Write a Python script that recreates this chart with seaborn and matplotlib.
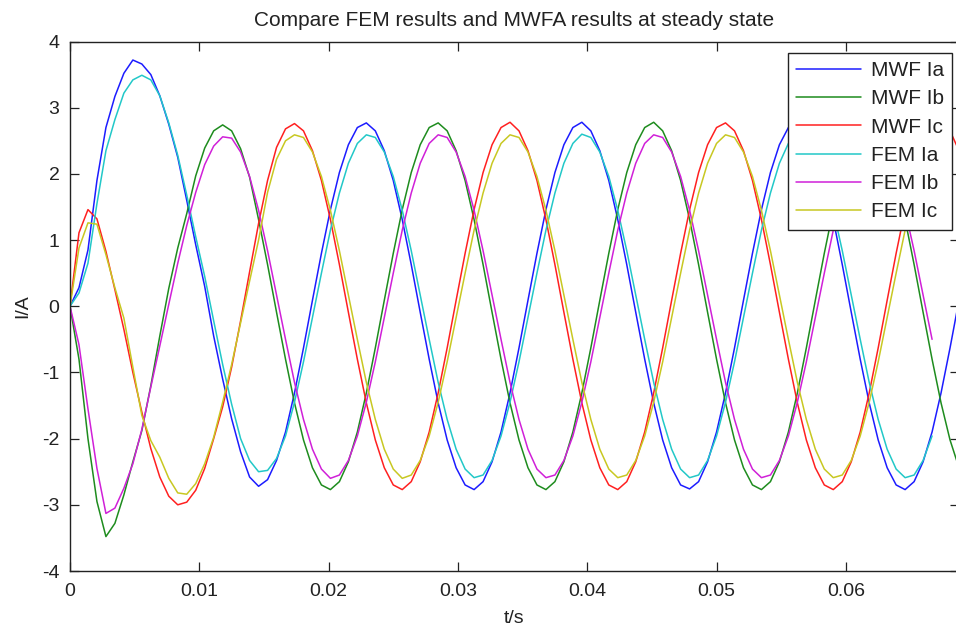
import matplotlib
matplotlib.use("Agg")
import matplotlib.pyplot as plt
from matplotlib.lines import Line2D
import pandas as pd
import seaborn as sns

# ---- data ----
t = [0.0, 0.000694, 0.001389, 0.002083, 0.002778, 0.003472, 0.004167, 0.004861,
     0.005556, 0.00625, 0.006944, 0.007639, 0.008333, 0.009028, 0.009722, 0.010417,
     0.011111, 0.011806, 0.0125, 0.013194, 0.013889, 0.014583, 0.015278, 0.015972,
     0.016667, 0.017361, 0.018056, 0.01875, 0.019444, 0.020139, 0.020833, 0.021528,
     0.022222, 0.022917, 0.023611, 0.024306, 0.025, 0.025694, 0.026389, 0.027083,
     0.027778, 0.028472, 0.029167, 0.029861, 0.030556, 0.03125, 0.031944, 0.032639,
     0.033333, 0.034028, 0.034722, 0.035417, 0.036111, 0.036806, 0.0375, 0.038194,
     0.038889, 0.039583, 0.040278, 0.040972, 0.041667, 0.042361, 0.043056, 0.04375,
     0.044444, 0.045139, 0.045833, 0.046528, 0.047222, 0.047917, 0.048611, 0.049306,
     0.05, 0.050694, 0.051389, 0.052083, 0.052778, 0.053472, 0.054167, 0.054861,
     0.055556, 0.05625, 0.056944, 0.057639, 0.058333, 0.059028, 0.059722, 0.060417,
     0.061111, 0.061806, 0.0625, 0.063194, 0.063889, 0.064583, 0.065278, 0.065972,
     0.066667, 0.067361, 0.068056, 0.06875]

mwf_ia = [0.00, 0.28, 0.85, 1.90, 2.70, 3.17, 3.52, 3.72, 3.66, 3.50, 3.18, 2.75,
          2.25, 1.60, 0.93, 0.30, -0.45, -1.10, -1.70, -2.20, -2.58, -2.72, -2.62, -2.33,
          -1.90, -1.31, -0.63, 0.09, 0.80, 1.46, 2.02, 2.44, 2.70, 2.77, 2.65, 2.35,
          1.90, 1.31, 0.63, -0.09, -0.80, -1.46, -2.02, -2.44, -2.70, -2.77, -2.65, -2.35,
          -1.90, -1.31, -0.63, 0.09, 0.80, 1.46, 2.02, 2.44, 2.70, 2.78, 2.65, 2.35,
          1.90, 1.31, 0.63, -0.09, -0.80, -1.46, -2.02, -2.44, -2.70, -2.76, -2.65, -2.35,
          -1.90, -1.31, -0.63, 0.09, 0.80, 1.46, 2.02, 2.44, 2.70, 2.77, 2.65, 2.35,
          1.90, 1.31, 0.63, -0.09, -0.80, -1.46, -2.02, -2.44, -2.70, -2.77, -2.65, -2.35,
          -1.90, -1.31, -0.63, 0.09]

mwf_ib = [0.00, -0.80, -2.00, -2.95, -3.48, -3.28, -2.85, -2.35, -1.88, -1.20, -0.45, 0.27,
          0.88, 1.40, 1.97, 2.39, 2.65, 2.74, 2.65, 2.38, 1.95,
          1.31, 0.63, -0.09, -0.80, -1.46, -2.02, -2.44, -2.70, -2.77, -2.65, -2.35,
          -1.90, -1.31, -0.63, 0.09, 0.80, 1.46, 2.02, 2.44, 2.70, 2.77, 2.65, 2.35,
          1.90, 1.31, 0.63, -0.09, -0.80, -1.46, -2.02, -2.44, -2.70, -2.77, -2.65, -2.35,
          -1.90, -1.31, -0.63, 0.09, 0.80, 1.46, 2.02, 2.44, 2.70, 2.78, 2.65, 2.35,
          1.90, 1.31, 0.63, -0.09, -0.80, -1.46, -2.02, -2.44, -2.70, -2.77, -2.65, -2.35,
          -1.90, -1.31, -0.63, 0.09, 0.80, 1.46, 2.02, 2.44, 2.70, 2.77, 2.65, 2.35,
          1.90, 1.31, 0.63, -0.09, -0.80, -1.46, -2.02, -2.44]

mwf_ic = [0.00, 1.11, 1.46, 1.32, 0.83, 0.25, -0.35, -1.00, -1.60, -2.15, -2.58, -2.87,
          -3.00, -2.96, -2.78, -2.45, -2.00, -1.52, -0.92, -0.22, 0.52, 1.25, 1.90, 2.40,
          2.68, 2.76,
          2.65, 2.35, 1.90, 1.31, 0.63, -0.09, -0.80, -1.46, -2.02, -2.44, -2.70, -2.77,
          -2.65, -2.35,
          -1.90, -1.31, -0.63, 0.09, 0.80, 1.46, 2.02, 2.44, 2.70, 2.78, 2.65, 2.35,
          1.90, 1.31, 0.63, -0.09, -0.80, -1.46, -2.02, -2.44, -2.70, -2.77, -2.65, -2.35,
          -1.90, -1.31, -0.63, 0.09, 0.80, 1.46, 2.02, 2.44, 2.70, 2.77, 2.65, 2.35,
          1.90, 1.31, 0.63, -0.09, -0.80, -1.46, -2.02, -2.44, -2.70, -2.77, -2.65, -2.35,
          -1.90, -1.31, -0.63, 0.09, 0.80, 1.46, 2.02, 2.44, 2.70, 2.77, 2.65, 2.35]

fem_ia = [0.00, 0.20, 0.65, 1.55, 2.35, 2.82, 3.22, 3.42, 3.49, 3.42, 3.18, 2.77,
          2.28, 1.68, 1.05, 0.45, -0.22, -0.88, -1.48, -2.00, -2.33, -2.50, -2.48, -2.30,
          -1.96, -1.45, -0.84, -0.17, 0.50, 1.15, 1.71, 2.16, 2.46, 2.59, 2.55, 2.33,
          1.96, 1.45, 0.84, 0.17, -0.50, -1.15, -1.71, -2.16, -2.46, -2.59, -2.55, -2.33,
          -1.96, -1.45, -0.84, -0.17, 0.50, 1.15, 1.71, 2.16, 2.46, 2.60, 2.55, 2.33,
          1.96, 1.45, 0.84, 0.17, -0.50, -1.15, -1.71, -2.16, -2.46, -2.59, -2.55, -2.33,
          -1.96, -1.45, -0.84, -0.17, 0.50, 1.15, 1.71, 2.16, 2.46, 2.59, 2.55, 2.33,
          1.96, 1.45, 0.84, 0.17, -0.50, -1.15, -1.71, -2.16, -2.46, -2.59, -2.55, -2.33,
          -1.96]

fem_ib = [0.00, -0.58, -1.55, -2.45, -3.13, -3.05, -2.75, -2.38, -1.86, -1.22, -0.60, 0.03,
          0.65, 1.22, 1.72, 2.14, 2.42, 2.56, 2.54, 2.33,
          1.96, 1.45, 0.84, 0.17, -0.50, -1.15, -1.71, -2.16, -2.46, -2.60, -2.55, -2.33,
          -1.96, -1.45, -0.84, -0.17, 0.50, 1.15, 1.71, 2.16, 2.46, 2.59, 2.55, 2.33,
          1.96, 1.45, 0.84, 0.17, -0.50, -1.15, -1.71, -2.16, -2.46, -2.59, -2.55, -2.33,
          -1.96, -1.45, -0.84, -0.17, 0.50, 1.15, 1.71, 2.16, 2.46, 2.59, 2.55, 2.33,
          1.96, 1.45, 0.84, 0.17, -0.50, -1.15, -1.71, -2.16, -2.46, -2.59, -2.55, -2.33,
          -1.96, -1.45, -0.84, -0.17, 0.50, 1.15, 1.71, 2.16, 2.46, 2.59, 2.55, 2.33,
          1.96, 1.45, 0.84, 0.17, -0.50]

fem_ic = [0.00, 0.88, 1.26, 1.24, 0.78, 0.28, -0.18, -0.92, -1.65, -2.03, -2.28, -2.60,
          -2.82, -2.84, -2.68, -2.38, -1.98, -1.45, -0.88, -0.25, 0.38, 1.00, 1.72, 2.22,
          2.50, 2.59,
          2.55, 2.33, 1.96, 1.45, 0.84, 0.17, -0.50, -1.15, -1.71, -2.16, -2.46, -2.60,
          -2.55, -2.33,
          -1.96, -1.45, -0.84, -0.17, 0.50, 1.15, 1.71, 2.16, 2.46, 2.59, 2.55, 2.33,
          1.96, 1.45, 0.84, 0.17, -0.50, -1.15, -1.71, -2.16, -2.46, -2.59, -2.55, -2.33,
          -1.96, -1.45, -0.84, -0.17, 0.50, 1.15, 1.71, 2.16, 2.46, 2.59, 2.55, 2.33,
          1.96, 1.45, 0.84, 0.17, -0.50, -1.15, -1.71, -2.16, -2.46, -2.59, -2.55, -2.33,
          -1.96, -1.45, -0.84, -0.17, 0.50, 1.15, 1.71, 2.16, 2.46]

series_names = ["MWF Ia", "MWF Ib", "MWF Ic", "FEM Ia", "FEM Ib", "FEM Ic"]
series_values = [mwf_ia, mwf_ib, mwf_ic, fem_ia, fem_ib, fem_ic]
series_colors = ["#1c1cff", "#1e8c1e", "#ff2020", "#22c8c8", "#d020d8", "#c8c822"]

x_ticks = [0, 0.01, 0.02, 0.03, 0.04, 0.05, 0.06]
x_tick_labels = ["0", "0.01", "0.02", "0.03", "0.04", "0.05", "0.06"]
y_ticks = [-4, -3, -2, -1, 0, 1, 2, 3, 4]
y_tick_labels = ["-4", "-3", "-2", "-1", "0", "1", "2", "3", "4"]

# ---- long-form table ----
frames = []
for name, vals in zip(series_names, series_values):
    frames.append(pd.DataFrame({"t": t[:len(vals)], "I": vals, "series": name}))
df = pd.concat(frames, ignore_index=True)
palette = dict(zip(series_names, series_colors))

sns.set_theme(style="ticks")
plt.rcParams["font.family"] = ["Liberation Sans", "DejaVu Sans"]
plt.rcParams["axes.unicode_minus"] = False

W, H = 956, 633
fig = plt.figure(figsize=(W / 100, H / 100), dpi=100)
fig.patch.set_facecolor("white")
ax = fig.add_axes([70 / W, (H - 571) / H, 889 / W, 529.5 / H])
ax.set_facecolor("white")

sns.lineplot(data=df, x="t", y="I", hue="series", hue_order=series_names,
             palette=palette, estimator=None, sort=False, linewidth=1.1,
             legend=False, ax=ax)

ax.set_xlim(0, 0.06875)
ax.set_ylim(-4, 4)
ax.set_xticks(x_ticks)
ax.set_xticklabels(x_tick_labels)
ax.set_yticks(y_ticks)
ax.set_yticklabels(y_tick_labels)

for sp in ax.spines.values():
    sp.set_visible(True)
    sp.set_color("#222222")
    sp.set_linewidth(1.0)

ax.tick_params(axis="both", which="major", direction="in", top=True, right=True,
               length=6.5, width=0.9, color="#222222", labelsize=14,
               labelcolor="#222222")
ax.tick_params(axis="x", pad=9)
ax.tick_params(axis="y", pad=7.5)

ax.set_xlabel("t/s", fontsize=14, color="#222222", labelpad=7)
ax.set_ylabel("I/A", fontsize=14, color="#222222", labelpad=8)
ax.set_title("Compare FEM results and MWFA results at steady state",
             fontsize=15, color="#222222", pad=11)

handles = [Line2D([0], [0], color=c, lw=1.1) for c in series_colors]
leg = ax.legend(handles, series_names, loc="upper right",
                bbox_to_anchor=((952 - 70) / 889, (571 - 53) / 529.5),
                borderaxespad=0, fontsize=15, frameon=True, fancybox=False,
                handlelength=3.1, handletextpad=0.48, labelspacing=0.44,
                borderpad=0.4)
leg.get_frame().set_edgecolor("#222222")
leg.get_frame().set_linewidth(1.0)
leg.get_frame().set_facecolor("white")
leg.get_frame().set_alpha(1.0)
for txt in leg.get_texts():
    txt.set_color("#222222")

fig.savefig("out.png", dpi=100, facecolor="white")
